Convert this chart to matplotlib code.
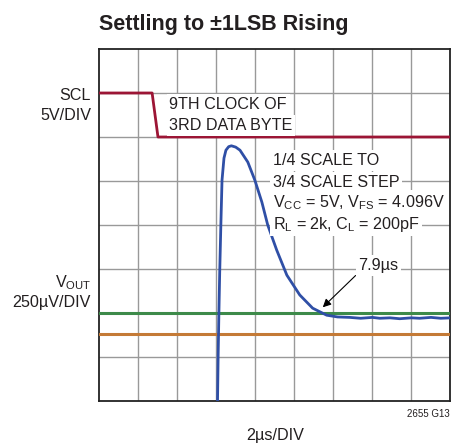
import numpy as np
import matplotlib
matplotlib.use("Agg")
import matplotlib.pyplot as plt

plt.rcParams['font.family'] = ['Liberation Sans Narrow', 'Liberation Sans', 'DejaVu Sans']
plt.rcParams['mathtext.fontset'] = 'custom'
plt.rcParams['mathtext.rm'] = 'Liberation Sans'
plt.rcParams['mathtext.it'] = 'Liberation Sans'
plt.rcParams['text.color'] = '#231f20'

# scope grid: 9 x 8 divisions
n_xdiv = 9
n_ydiv = 8

# SCL trace (divisions)
scl_t = [0.0, 1.36, 1.51, 9.0]
scl_v = [7.0, 7.0, 6.0, 6.0]

# VOUT trace (divisions)
vout_t = [3.03, 3.05, 3.07, 3.09, 3.12, 3.15, 3.20, 3.25, 3.32, 3.39, 3.50, 3.61,
          3.81, 3.99, 4.17, 4.32, 4.55, 4.81, 5.14, 5.47, 5.83, 6.11, 6.42,
          6.70, 7.00, 7.19, 7.45, 7.70, 8.00, 8.21, 8.50, 8.75, 9.0]
vout_v = [-0.3, 1.0, 2.0, 2.9, 4.0, 5.02, 5.52, 5.70, 5.78, 5.80, 5.77, 5.70,
          5.43, 5.02, 4.52, 4.00, 3.43, 2.86, 2.41, 2.11, 1.95, 1.91, 1.90,
          1.88, 1.90, 1.88, 1.89, 1.87, 1.89, 1.88, 1.90, 1.88, 1.89]

# +/-1LSB limits
upper_lsb = 2.0
lower_lsb = 1.52

fig = plt.figure(figsize=(4.52, 4.44), dpi=100)
ax = fig.add_axes([99 / 452, 1 - 401 / 444, 351.5 / 452, 352 / 444])
ax.set_xlim(0, n_xdiv)
ax.set_ylim(0, n_ydiv)
for i in range(1, n_xdiv):
    ax.axvline(i, color='#999999', lw=1.0, zorder=1)
for j in range(1, n_ydiv):
    ax.axhline(j, color='#999999', lw=1.0, zorder=1)
ax.set_xticks([])
ax.set_yticks([])
for s in ax.spines.values():
    s.set_linewidth(1.3)
    s.set_color('#222222')

ax.axhline(upper_lsb, color='#3d8a4a', lw=2.2, zorder=3)
ax.axhline(lower_lsb, color='#c47a36', lw=2.2, zorder=3)
ax.plot(scl_t, scl_v, color='#9c1535', lw=2.0, zorder=4)
ax.plot(vout_t, vout_v, color='#2f4fa6', lw=2.0, zorder=5)

box = dict(fc='white', ec='none', pad=2)
fs = 11.6
ax.text(1.80, 6.64, '9TH CLOCK OF', fontsize=fs, va='baseline', bbox=box, zorder=6)
ax.text(1.80, 6.16, '3RD DATA BYTE', fontsize=fs, va='baseline', bbox=box, zorder=6)

ax.text(4.45, 5.36, '1/4 SCALE TO', fontsize=fs, va='baseline', bbox=box, zorder=6)
ax.text(4.45, 4.86, '3/4 SCALE STEP', fontsize=fs, va='baseline', bbox=box, zorder=6)
ax.text(4.45, 4.41, r'V$_{\mathregular{CC}}$ = 5V, V$_{\mathregular{FS}}$ = 4.096V',
        fontsize=fs, va='baseline', bbox=box, zorder=6)
ax.text(4.45, 3.92, r'R$_{\mathregular{L}}$ = 2k, C$_{\mathregular{L}}$ = 200pF',
        fontsize=fs, va='baseline', bbox=box, zorder=6)

ax.annotate('7.9µs', xy=(5.73, 2.13), xytext=(6.64, 2.98), fontsize=fs,
            va='baseline', bbox=dict(fc='white', ec='none', pad=2), zorder=6,
            arrowprops=dict(arrowstyle='-|>', color='black', lw=0.8,
                            mutation_scale=12, shrinkA=0, shrinkB=0,
                            relpos=(0.0, 0.0)))

fig.text(91 / 452, 1 - 100 / 444, 'SCL', fontsize=fs, ha='right', va='baseline')
fig.text(91 / 452, 1 - 120 / 444, '5V/DIV', fontsize=fs, ha='right', va='baseline')
fig.text(91 / 452, 1 - 287 / 444, r'V$_{\mathregular{OUT}}$', fontsize=fs, ha='right', va='baseline')
fig.text(91 / 452, 1 - 307 / 444, '250µV/DIV', fontsize=fs, ha='right', va='baseline')

fig.text(99 / 452, 1 - 30 / 444, 'Settling to ±1LSB Rising', fontsize=15.5,
         fontweight='bold', ha='left', va='baseline')
fig.text(275 / 452, 1 - 440 / 444, '2µs/DIV', fontsize=fs, ha='center', va='baseline')
fig.text(450 / 452, 1 - 417 / 444, '2655 G13', fontsize=7, ha='right', va='baseline')

fig.savefig('out.png', dpi=100)
